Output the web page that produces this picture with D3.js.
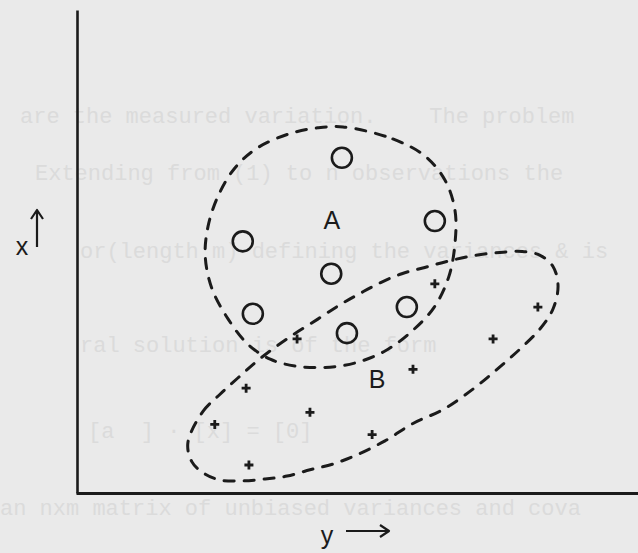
<!DOCTYPE html>
<html>
<head>
<meta charset="utf-8">
<script src="https://cdn.jsdelivr.net/npm/d3@7"></script>
<style>
  html, body { margin: 0; padding: 0; background: #eaeaea; }
  svg { display: block; }
</style>
</head>
<body>
<svg id="chart" width="638" height="553"></svg>
<script>
// Group A observations (open circles): horizontal value, vertical value
const groupAh = [4.73, 6.39, 2.96, 4.54, 3.14, 5.89, 4.82];
const groupAv = [6.94, 5.63, 5.21, 4.54, 3.71, 3.85, 3.31];

// Group B observations (plus signs)
const groupBh = [6.39, 3.93, 8.23, 7.43, 6.00, 3.02, 4.16, 2.46, 5.27, 3.07];
const groupBv = [4.33, 3.19, 3.85, 3.19, 2.56, 2.17, 1.67, 1.42, 1.21, 0.58];

// Hand-drawn boundary of group A
const boundAh = [4.75, 5.64, 6.21, 6.57, 6.75, 6.75, 6.64, 6.38, 5.98, 5.50, 4.96, 4.43,
                 3.89, 3.45, 3.05, 2.70, 2.41, 2.29, 2.34, 2.52, 2.82, 3.23, 3.80, 4.30];
const boundAv = [7.58, 7.33, 6.98, 6.48, 5.85, 5.17, 4.48, 3.85, 3.35, 2.94, 2.69, 2.60,
                 2.63, 2.77, 3.08, 3.60, 4.23, 4.90, 5.52, 6.15, 6.73, 7.15, 7.44, 7.56];

// Hand-drawn boundary of group B
const boundBh = [1.98, 2.25, 2.55, 2.91, 3.30, 3.80, 4.30, 4.70, 5.05, 5.41, 5.80, 6.21,
                 6.66, 7.11, 7.55, 7.95, 8.27, 8.50, 8.59, 8.50, 8.27, 7.91, 7.50, 7.07,
                 6.54, 6.00, 5.50, 5.00, 4.57, 4.16, 3.75, 3.36, 2.95, 2.55, 2.25, 2.05];
const boundBv = [1.04, 1.69, 2.04, 2.42, 2.81, 3.23, 3.60, 3.90, 4.13, 4.35, 4.54, 4.67,
                 4.81, 4.92, 4.98, 5.00, 4.92, 4.69, 4.29, 3.81, 3.40, 2.98, 2.56, 2.15,
                 1.73, 1.44, 1.08, 0.79, 0.60, 0.48, 0.35, 0.29, 0.25, 0.27, 0.42, 0.65];

// Group labels and their positions
const groupNames = ["A", "B"];
const labelH = [4.55, 5.36];
const labelV = [5.65, 2.35];

// Axis titles
const axisTitles = ["x", "y"];

// Page text printed faintly around the figure
const pageLines = [
  "are the measured variation.    The problem",
  "Extending from (1) to n observations the",
  "or(length m) defining the variances & is",
  "ral solution is of the form",
  "[a  ] · [x] = [0]",
  "an nxm matrix of unbiased variances and cova"
];
const pageLineX = [20, 35, 80, 80, 88, 0];
const pageLineY = [123, 180, 258, 352, 438, 515];

const svg = d3.select("#chart");
const W = 638, H = 553;

const ink = "#1b1b1b";

const x = d3.scaleLinear().domain([0, 10]).range([77, 637]);
const y = d3.scaleLinear().domain([0, 10]).range([493, 10]);

// faint page text behind the figure
svg.append("g")
  .selectAll("text")
  .data(pageLines)
  .join("text")
  .attr("x", (d, i) => pageLineX[i])
  .attr("y", (d, i) => pageLineY[i])
  .attr("font-family", "Liberation Mono, DejaVu Sans Mono, monospace")
  .attr("font-size", 22)
  .attr("fill", "#dbdbdb")
  .attr("xml:space", "preserve")
  .style("white-space", "pre")
  .text(d => d);

// axes: bare lines, no ticks
svg.append("g")
  .attr("transform", `translate(${x(0)},0)`)
  .call(d3.axisLeft(y).tickValues([]).tickSizeOuter(0))
  .call(g => g.select(".domain").attr("stroke", ink).attr("stroke-width", 2.6));

svg.append("g")
  .attr("transform", `translate(0,${y(0)})`)
  .call(d3.axisBottom(d3.scaleLinear().domain([0, 10]).range([x(0) - 1, W])).tickValues([]).tickSizeOuter(0))
  .call(g => g.select(".domain").attr("stroke", ink).attr("stroke-width", 2.8));

// dashed group boundaries
const outline = d3.line()
  .x(d => x(d[0]))
  .y(d => y(d[1]))
  .curve(d3.curveCatmullRomClosed.alpha(0.5));

const bounds = [
  d3.zip(boundAh, boundAv),
  d3.zip(boundBh, boundBv)
];

svg.append("g")
  .selectAll("path")
  .data(bounds)
  .join("path")
  .attr("d", outline)
  .attr("fill", "none")
  .attr("stroke", ink)
  .attr("stroke-width", 3)
  .attr("stroke-linecap", "round")
  .attr("stroke-dasharray", "10 10");

// group A: open circles
svg.append("g")
  .selectAll("circle")
  .data(d3.zip(groupAh, groupAv))
  .join("circle")
  .attr("cx", d => x(d[0]))
  .attr("cy", d => y(d[1]))
  .attr("r", 10)
  .attr("fill", "none")
  .attr("stroke", ink)
  .attr("stroke-width", 2.6);

// group B: small plus signs
svg.append("g")
  .selectAll("path")
  .data(d3.zip(groupBh, groupBv))
  .join("path")
  .attr("transform", d => `translate(${x(d[0])},${y(d[1])})`)
  .attr("d", "M-4.5,0H4.5M0,-4.5V4.5")
  .attr("stroke", ink)
  .attr("stroke-width", 2.8)
  .attr("fill", "none");

// group labels
svg.append("g")
  .selectAll("text")
  .data(groupNames)
  .join("text")
  .attr("x", (d, i) => x(labelH[i]))
  .attr("y", (d, i) => y(labelV[i]))
  .attr("text-anchor", "middle")
  .attr("dominant-baseline", "central")
  .attr("font-family", "Liberation Sans, Arial, sans-serif")
  .attr("font-size", 25)
  .attr("fill", ink)
  .text(d => d);

// axis titles with arrows
svg.append("text")
  .attr("x", 22).attr("y", 246)
  .attr("text-anchor", "middle")
  .attr("dominant-baseline", "central")
  .attr("font-family", "Liberation Sans, Arial, sans-serif")
  .attr("font-size", 25)
  .attr("fill", ink)
  .text(axisTitles[0]);

svg.append("path")
  .attr("d", "M37,247V211M31,219L37,210L43,219")
  .attr("fill", "none").attr("stroke", ink).attr("stroke-width", 2.2)
  .attr("stroke-linejoin", "round");

svg.append("text")
  .attr("x", 327).attr("y", 535)
  .attr("text-anchor", "middle")
  .attr("dominant-baseline", "central")
  .attr("font-family", "Liberation Sans, Arial, sans-serif")
  .attr("font-size", 25)
  .attr("fill", ink)
  .text(axisTitles[1]);

svg.append("path")
  .attr("d", "M346,531H388M380,525L389,531L380,537")
  .attr("fill", "none").attr("stroke", ink).attr("stroke-width", 2.2)
  .attr("stroke-linejoin", "round");
</script>
</body>
</html>
